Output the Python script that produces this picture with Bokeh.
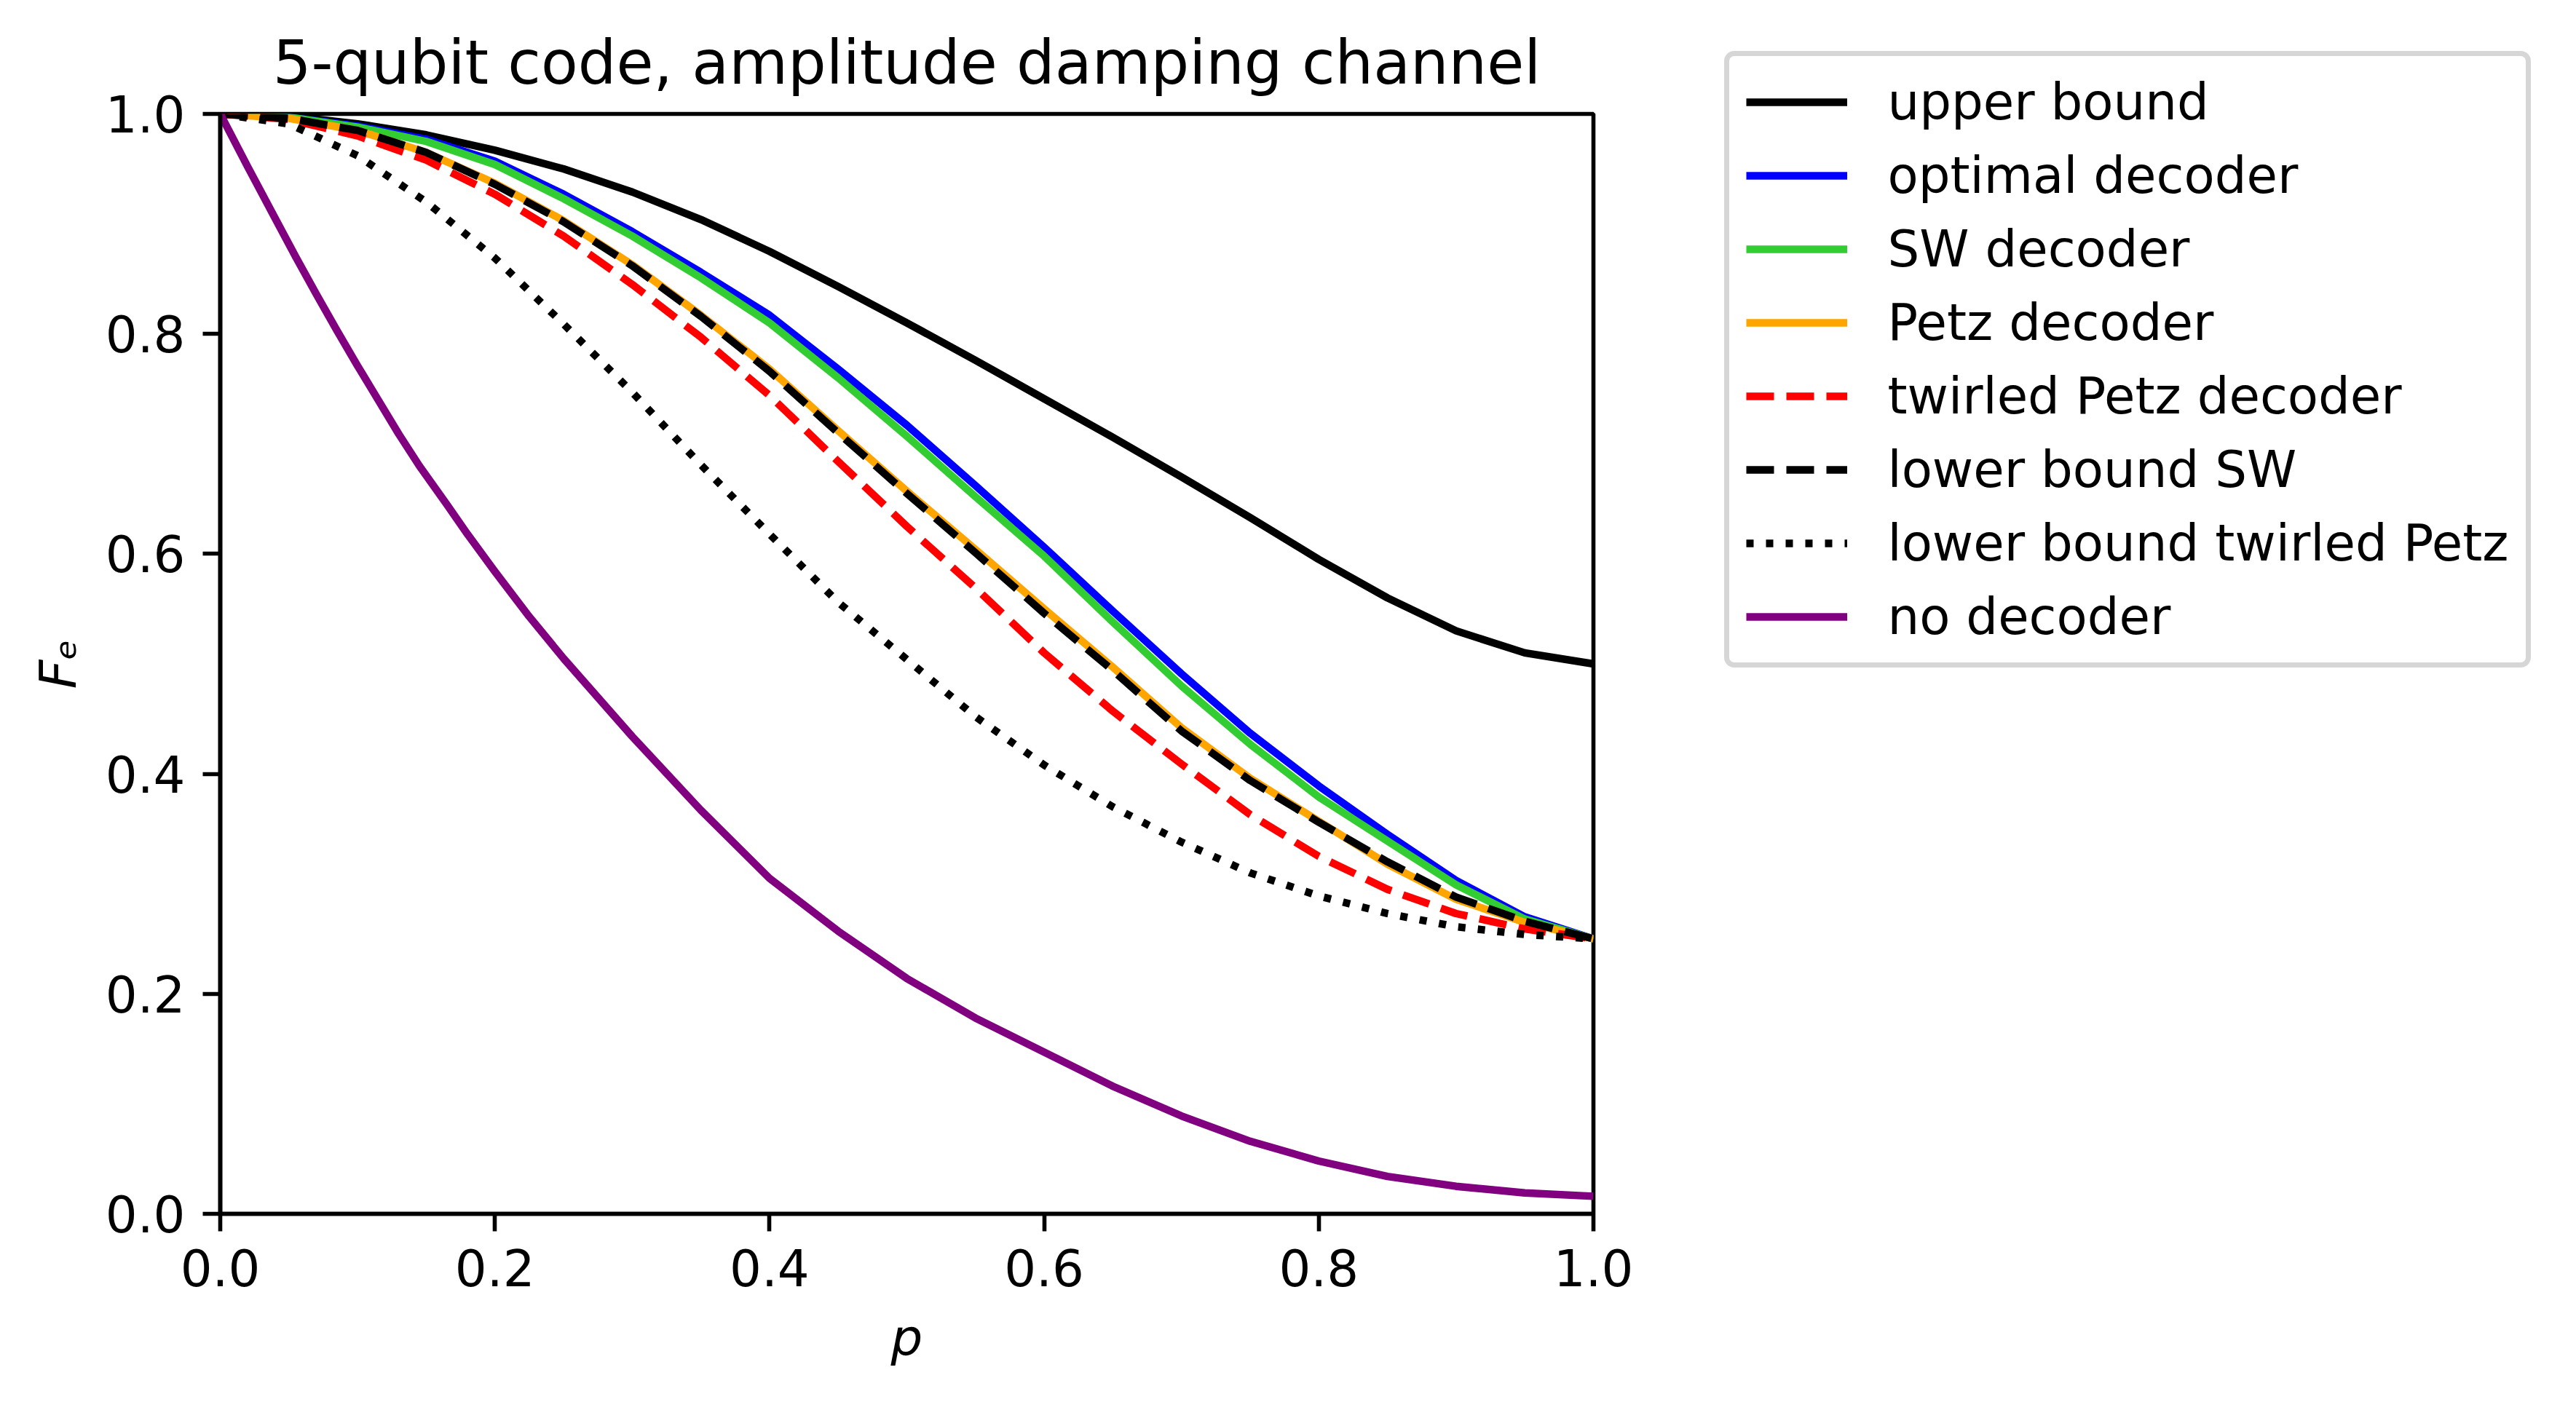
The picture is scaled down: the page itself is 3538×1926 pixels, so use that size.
from bokeh.plotting import figure
from bokeh.models import (Range1d, FixedTicker, PrintfTickFormatter, Legend, LegendItem,
                          LinearAxis)
from bokeh.embed import file_html
from bokeh.resources import INLINE

# ---- data ----
p_values = [0.00, 0.05, 0.10, 0.15, 0.20, 0.25, 0.30, 0.35, 0.40, 0.45, 0.50,
            0.55, 0.60, 0.65, 0.70, 0.75, 0.80, 0.85, 0.90, 0.95, 1.00]

upper_bound = [1.000, 0.998, 0.991, 0.981, 0.967, 0.950, 0.929, 0.904, 0.875, 0.843, 0.810,
               0.776, 0.741, 0.706, 0.670, 0.633, 0.595, 0.560, 0.530, 0.510, 0.500]
optimal_decoder = [1.000, 0.997, 0.989, 0.977, 0.957, 0.927, 0.893, 0.856, 0.817, 0.768, 0.717,
                   0.662, 0.606, 0.548, 0.491, 0.437, 0.389, 0.345, 0.303, 0.270, 0.250]
sw_decoder = [1.000, 0.997, 0.988, 0.975, 0.954, 0.923, 0.889, 0.851, 0.810, 0.760, 0.707,
              0.652, 0.598, 0.538, 0.480, 0.427, 0.379, 0.339, 0.299, 0.268, 0.250]
petz_decoder = [1.000, 0.996, 0.985, 0.965, 0.937, 0.903, 0.863, 0.817, 0.768, 0.712, 0.657,
                0.604, 0.550, 0.497, 0.442, 0.396, 0.357, 0.318, 0.286, 0.265, 0.250]
twirled_petz_decoder = [1.000, 0.995, 0.980, 0.958, 0.927, 0.889, 0.845, 0.797, 0.744, 0.684, 0.625,
                        0.569, 0.510, 0.457, 0.409, 0.363, 0.325, 0.295, 0.273, 0.259, 0.250]
lower_bound_sw = [1.000, 0.996, 0.985, 0.965, 0.936, 0.902, 0.862, 0.816, 0.766, 0.710, 0.655,
                  0.601, 0.546, 0.494, 0.439, 0.394, 0.356, 0.320, 0.288, 0.266, 0.250]
lower_bound_twirled_petz = [1.000, 0.991, 0.962, 0.920, 0.869, 0.809, 0.747, 0.681, 0.618, 0.556, 0.504,
                            0.452, 0.408, 0.370, 0.338, 0.310, 0.289, 0.273, 0.261, 0.254, 0.250]

# the "no decoder" curve is steep near p = 0, so it was read at more points
no_decoder_p = [0.000, 0.020, 0.040, 0.055, 0.070, 0.085, 0.100, 0.115, 0.130, 0.145, 0.165,
                0.180, 0.200, 0.225, 0.250, 0.300, 0.350, 0.400, 0.450, 0.500, 0.550,
                0.600, 0.650, 0.700, 0.750, 0.800, 0.850, 0.900, 0.950, 1.000]
no_decoder = [1.000, 0.952, 0.905, 0.870, 0.836, 0.803, 0.771, 0.740, 0.709, 0.680, 0.645,
              0.618, 0.584, 0.543, 0.505, 0.434, 0.367, 0.305, 0.257, 0.214, 0.178,
              0.147, 0.116, 0.089, 0.066, 0.048, 0.034, 0.025, 0.019, 0.016]

tick_values = [0.0, 0.2, 0.4, 0.6, 0.8, 1.0]

series = [
    ("upper bound", p_values, upper_bound, "#000000", "solid"),
    ("optimal decoder", p_values, optimal_decoder, "#0000ff", "solid"),
    ("SW decoder", p_values, sw_decoder, "#32cd32", "solid"),
    ("Petz decoder", p_values, petz_decoder, "#ffa500", "solid"),
    ("twirled Petz decoder", p_values, twirled_petz_decoder, "#ff0000", "38 17"),
    ("lower bound SW", p_values, lower_bound_sw, "#000000", "38 17"),
    ("lower bound twirled Petz", p_values, lower_bound_twirled_petz, "#000000", "10 17"),
    ("no decoder", no_decoder_p, no_decoder, "#800080", "solid"),
]

FONT = "DejaVu Sans"
LW = 10.4
SPINE = 5.6

H = 1910
LEFT = 302
TOP = 156
FW = 1886
FH = 1511
LEGEND_GAP = 200      # gap between the axes box and the legend box

fig = figure(frame_width=FW, frame_height=FH, output_backend="svg", toolbar_location=None,
             x_range=Range1d(0, 1), y_range=Range1d(0, 1),
             min_border_left=LEFT, min_border_right=0,
             min_border_top=TOP, min_border_bottom=H - TOP - FH)

fig.background_fill_color = "white"
fig.border_fill_color = "white"
fig.outline_line_color = "black"
fig.outline_line_width = SPINE
fig.outline_line_alpha = 1.0
fig.xgrid.visible = False
fig.ygrid.visible = False

fig.title.text = "5-qubit code, amplitude damping channel"
fig.title.text_font = FONT
fig.title.text_font_size = "83px"
fig.title.text_font_style = "normal"
fig.title.text_color = "black"
fig.title.align = "center"
fig.title.standoff = 44

for ax in (fig.xaxis[0], fig.yaxis[0]):
    ax.ticker = FixedTicker(ticks=tick_values)
    ax.formatter = PrintfTickFormatter(format="%.1f")
    ax.major_label_text_font = FONT
    ax.major_label_text_font_size = "69px"
    ax.major_label_text_color = "black"
    ax.major_tick_out = 24
    ax.major_tick_in = 0
    ax.minor_tick_out = 0
    ax.minor_tick_in = 0
    ax.major_tick_line_width = SPINE
    ax.major_tick_line_color = "black"
    ax.axis_line_width = SPINE
    ax.axis_line_color = "black"
    ax.major_label_standoff = 24
    ax.axis_label_text_font = FONT
    ax.axis_label_text_font_size = "69px"
    ax.axis_label_text_font_style = "italic"
    ax.axis_label_text_color = "black"

fig.xaxis[0].axis_label = "p"
fig.xaxis[0].axis_label_standoff = 28
fig.yaxis[0].axis_label = "F\u2091"
fig.yaxis[0].axis_label_standoff = 22

items = []
for label, xs, ys, color, dash in series:
    r = fig.line(xs, ys, line_color=color, line_width=LW, line_dash=dash, line_join="round")
    items.append(LegendItem(label=label, renderers=[r]))

# invisible spacer in the right panel so that the legend sits LEGEND_GAP px
# to the right of the axes box
spacer = LinearAxis(ticker=FixedTicker(ticks=[]), axis_line_color=None,
                    major_tick_out=LEGEND_GAP, major_tick_in=0,
                    major_tick_line_color="white", major_tick_line_width=0.1,
                    minor_tick_out=0, minor_tick_in=0, minor_tick_line_color=None,
                    major_label_standoff=0, major_label_text_font_size="1px",
                    major_label_text_alpha=0)
fig.add_layout(spacer, "right")

# legend: bottom edge 750 px above the bottom of the axes box
legend = Legend(items=items, location=(0, 750))
legend.margin = 0
legend.label_text_font = FONT
legend.label_text_font_size = "69px"
legend.label_text_color = "black"
legend.glyph_width = 139
legend.glyph_height = 40
legend.label_height = 66
legend.label_standoff = 55
legend.spacing = 21
legend.padding = 23
legend.border_line_color = "#cccccc"
legend.border_line_alpha = 0.8
legend.border_line_width = 7
legend.background_fill_color = "white"
legend.background_fill_alpha = 0.8
if "border_radius" in Legend.properties():
    legend.border_radius = 14
fig.add_layout(legend, "right")

open("out.html", "w").write(file_html(fig, INLINE))
